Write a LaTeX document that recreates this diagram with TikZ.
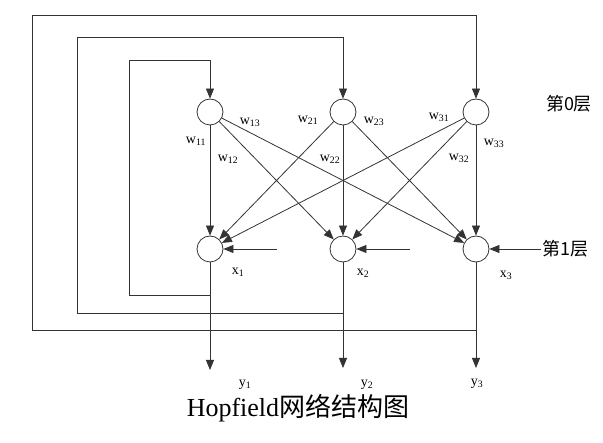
\documentclass[tikz,border=0pt]{standalone}
\usepackage{fontspec}
\setmainfont{Liberation Serif}
\newfontfamily\cjk{Noto Sans CJK SC}
\usepackage{tikz}
\usetikzlibrary{arrows.meta,positioning,calc}
\tikzset{
	neuron/.style={draw=black!80, line width=0.8pt, circle, minimum size=26pt, inner sep=0pt},
	wire/.style={draw=black!80, line width=0.8pt},
	arr/.style={wire, -{Triangle[length=10pt,width=8pt]}},
	wlab/.style={font=\fontsize{14}{16}\selectfont},
	layer/.style={font=\cjk\fontsize{18}{20}\selectfont, inner sep=1pt},
}
\begin{document}
\begin{tikzpicture}[x=1pt,y=-1pt]
	\useasboundingbox (0,0) rectangle (603,443);
	%%%%%%%%%% neuronios camada 0 %%%%%%%%%%
	\node[neuron] (s1) at (210,112) {};
	\node[neuron] (s2) at (343,112) {};
	\node[neuron] (s3) at (476,112) {};
	
	%%%%%%%%%% neuronios camada 1 %%%%%%%%%%
	\node[neuron] (x1) at (210,249) {};
	\node[neuron] (x2) at (343,249) {};
	\node[neuron] (x3) at (476,249) {};
	
	%%%%%%%%%% pesos %%%%%%%%%%
	\draw[arr] (s1) -- (x1);
	\draw[arr] (s1) -- (x2);
	\draw[arr] (s1) -- (x3);
	\draw[arr] (s2) -- (x1);
	\draw[arr] (s2) -- (x2);
	\draw[arr] (s2) -- (x3);
	\draw[arr] (s3) -- (x1);
	\draw[arr] (s3) -- (x2);
	\draw[arr] (s3) -- (x3);
	
	%%%%%%%%%% saidas %%%%%%%%%%
	\coordinate (o1) at (210,370);
	\coordinate (o2) at (343,368);
	\coordinate (o3) at (476,368);
	\draw[arr] (x1) -- (o1);
	\draw[arr] (x2) -- (o2);
	\draw[arr] (x3) -- (o3);
	
	%%%%%%%%%% realimentacao %%%%%%%%%%
	\coordinate (c1) at (210,295);
	\coordinate (c2) at (343,313);
	\coordinate (c3) at (476,330);
	\coordinate (l1) at (129,60);
	\coordinate (l2) at (77,37);
	\coordinate (l3) at (32,15);
	\draw[arr] (c1) -| (l1) -| (s1);
	\draw[arr] (c2) -| (l2) -| (s2);
	\draw[arr] (c3) -| (l3) -| (s3);
	
	%%%%%%%%%% entradas %%%%%%%%%%
	\coordinate (i1) at (277,249);
	\coordinate (i2) at (410,249);
	\node[layer, anchor=west] (L1) at (541,249) {第1层};
	\node[layer] (L0) at (569,104) {第0层};
	\draw[arr] (i1) -- (x1);
	\draw[arr] (i2) -- (x2);
	\draw[arr] (L1) -- (x3);
	
	%%%%%%%%%% rotulos %%%%%%%%%%
	\node[wlab] (w11) at (196,141) {w\textsubscript{11}};
	\node[wlab] (w12) at (228,159) {w\textsubscript{12}};
	\node[wlab] (w13) at (250,122) {w\textsubscript{13}};
	\node[wlab] (w21) at (308,120) {w\textsubscript{21}};
	\node[wlab] (w22) at (330,159) {w\textsubscript{22}};
	\node[wlab] (w23) at (374,121) {w\textsubscript{23}};
	\node[wlab] (w31) at (439,117) {w\textsubscript{31}};
	\node[wlab] (w32) at (459,158) {w\textsubscript{32}};
	\node[wlab] (w33) at (494,143) {w\textsubscript{33}};
	\node[wlab] (nx1) at (238,272) {x\textsubscript{1}};
	\node[wlab] (nx2) at (363,273) {x\textsubscript{2}};
	\node[wlab] (nx3) at (506,275) {x\textsubscript{3}};
	\node[wlab] (ny1) at (245,385) {y\textsubscript{1}};
	\node[wlab] (ny2) at (367,385) {y\textsubscript{2}};
	\node[wlab] (ny3) at (477,384) {y\textsubscript{3}};
	\node[font=\fontsize{26}{28}\selectfont] (cap) at (298,408) {Hopfield{\cjk 网络结构图}};
\end{tikzpicture}
\end{document}
